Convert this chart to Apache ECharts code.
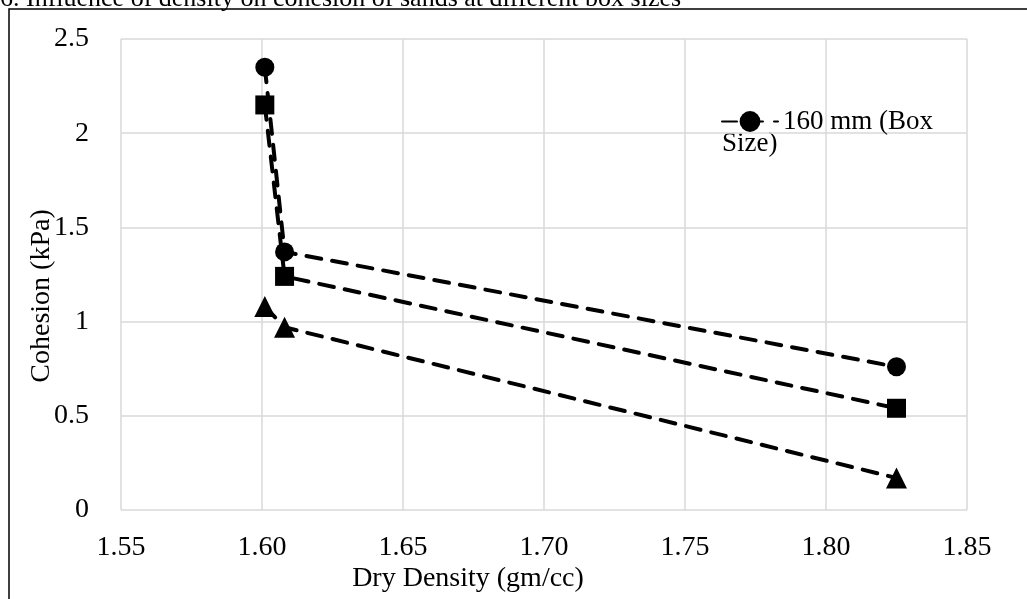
<!DOCTYPE html>
<html>
<head>
<meta charset="utf-8">
<script src="https://cdn.jsdelivr.net/npm/echarts@6/dist/echarts.min.js"></script>
<style>
html,body{margin:0;padding:0;background:#fff;}
#chart{width:1027px;height:599px;}
</style>
</head>
<body>
<div id="chart"></div>
<script>
// data
var density = [1.601, 1.608, 1.825];
var cohesionCircle = [2.35, 1.37, 0.76];
var cohesionSquare = [2.15, 1.24, 0.54];
var cohesionTriangle = [1.08, 0.97, 0.17];
var legendName = '160 mm (Box Size)';
var titleText = '6. Influence of density on cohesion of sands at different box sizes';

var font = 'Liberation Serif';
var pairs = function(ys){
	var out = [];
	for(var i=0;i<density.length;i++){
		out.push([density[i], ys[i]]);
	}
	return out;
};
var dash = {color:'#000', width:4, type:[15,11], cap:'round'};

var myChart = echarts.init(document.getElementById('chart'));
var option = {
	animation:false,
	backgroundColor:'#fff',
	grid:{left:121, right:60, top:39, bottom:89},
	legend:{
		data:[legendName],
		left:716, top:103,
		itemWidth:56, itemHeight:26,
		itemGap:6,
		formatter:function(){ return '160 mm (Box'; },
		textStyle:{fontFamily:font, fontSize:27, color:'#000'}
	},
	xAxis:{
		type:'value', min:1.55, max:1.85, interval:0.05,
		axisLine:{show:false},
		axisTick:{show:false},
		axisLabel:{
			fontFamily:font, fontSize:28, color:'#000', margin:24,
			formatter:function(v){ return v.toFixed(2); }
		},
		splitLine:{lineStyle:{color:'#d9d9d9', width:1.5}}
	},
	yAxis:{
		type:'value', min:0, max:2.5, interval:0.5,
		axisLine:{show:false},
		axisTick:{show:false},
		axisLabel:{fontFamily:font, fontSize:28, color:'#000', margin:32},
		splitLine:{lineStyle:{color:'#d9d9d9', width:1.5}}
	},
	graphic:[
		{type:'rect', shape:{x:9, y:9, width:1100, height:700}, style:{fill:'none', stroke:'#000', lineWidth:1.5}},
		{type:'text', x:0, y:12, style:{text:titleText, fontFamily:font, fontSize:26, fill:'#000', verticalAlign:'bottom'}},
		{type:'text', x:42, y:296, rotation:Math.PI/2, style:{text:'Cohesion (kPa)', fontFamily:font, fontSize:28, fill:'#000', align:'center', verticalAlign:'middle'}},
		{type:'text', x:468, y:579, style:{text:'Dry Density (gm/cc)', fontFamily:font, fontSize:28, fill:'#000', align:'center', verticalAlign:'middle'}},
		{type:'text', x:722, y:144, style:{text:'Size)', fontFamily:font, fontSize:27, fill:'#000', verticalAlign:'middle'}}
	],
	series:[
		{
			name:legendName, type:'line',
			symbol:'circle', symbolSize:19,
			itemStyle:{color:'#000'},
			lineStyle:dash,
			data:pairs(cohesionCircle)
		},
		{
			name:'square', type:'line',
			symbol:'rect', symbolSize:19,
			itemStyle:{color:'#000'},
			lineStyle:dash,
			data:pairs(cohesionSquare)
		},
		{
			name:'triangle', type:'line',
			symbol:'triangle', symbolSize:21,
			itemStyle:{color:'#000'},
			lineStyle:dash,
			data:pairs(cohesionTriangle)
		}
	]
};
myChart.setOption(option);
</script>
</body>
</html>
